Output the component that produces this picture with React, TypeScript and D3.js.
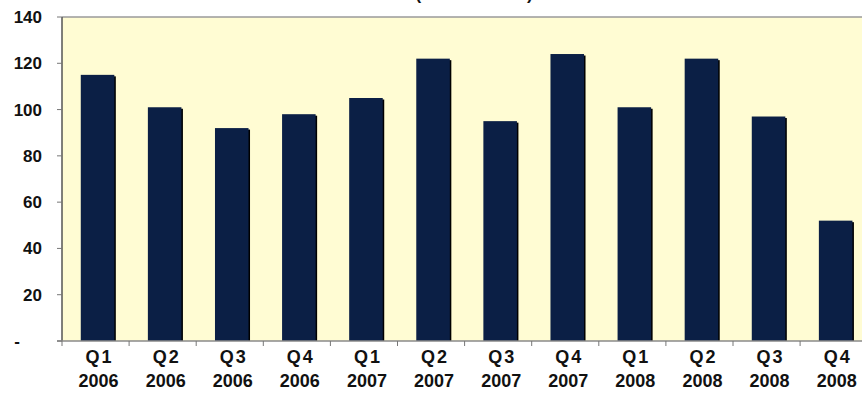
import React from "react";
import * as d3 from "d3";

const quarters = ["Q1", "Q2", "Q3", "Q4", "Q1", "Q2", "Q3", "Q4", "Q1", "Q2", "Q3", "Q4"];
const years = ["2006", "2006", "2006", "2006", "2007", "2007", "2007", "2007", "2008", "2008", "2008", "2008"];
const values = [115, 101, 92, 98, 105, 122, 95, 124, 101, 122, 97, 52];
const yTicks = [0, 20, 40, 60, 80, 100, 120, 140];
const title = "(in thousands)";

const W = 862;
const H = 397;
const left = 62;
const top = 17;
const bottom = 341;

export default function App() {
  const ids = values.map((_, i) => String(i));
  const x = d3.scaleBand<string>().domain(ids).range([left, left + 12 * 67.1]).paddingInner(0.5).paddingOuter(0.25);
  const y = d3.scaleLinear().domain([0, 140]).range([bottom, top]);
  const step = x.step();
  const font = "Arial, 'Liberation Sans', sans-serif";

  return (
    <svg width={W} height={H} style={{ position: "absolute", left: 0, top: 0, background: "#fff" }}>
      <text x={474} y={0} textAnchor="middle" fontFamily={font} fontWeight="bold" fontSize={17} fill="#111">
        {title}
      </text>
      <rect x={left} y={top} width={W - left} height={bottom - top} fill="#fffcd3" />
      <line x1={left} x2={W} y1={top} y2={top} stroke="#9a9a9a" strokeWidth={1.5} />
      {ids.map((id, i) => {
        const bx = (x(id) as number) + 2;
        const bw = x.bandwidth();
        const yt = y(values[i]);
        return (
          <g key={id}>
            <rect x={bx + 1.5} y={yt + 1.5} width={bw} height={bottom - yt - 1.5} fill="#000000" />
            <rect x={bx} y={yt} width={bw} height={bottom - yt} fill="#0b1f45" />
          </g>
        );
      })}
      <line x1={left} x2={left} y1={top} y2={bottom} stroke="#555" strokeWidth={1.5} />
      <line x1={left - 5} x2={W} y1={bottom} y2={bottom} stroke="#8a8a8a" strokeWidth={1.5} />
      {yTicks.map((t) => (
        <g key={t}>
          <line x1={left - 5} x2={left} y1={y(t)} y2={y(t)} stroke="#777" strokeWidth={1} />
          {t === 0 ? (
            <text x={20} y={y(t) + 6} textAnchor="end" fontFamily={font} fontWeight="bold" fontSize={17} fill="#111">
              -
            </text>
          ) : (
            <text x={42} y={y(t) + 6} textAnchor="end" fontFamily={font} fontWeight="bold" fontSize={17} fill="#111">
              {t}
            </text>
          )}
        </g>
      ))}
      {ids.map((id, i) => {
        const bx = left + step * i;
        return <line key={"t" + id} x1={bx} x2={bx} y1={bottom} y2={bottom + 5} stroke="#777" strokeWidth={1} />;
      })}
      {ids.map((id, i) => {
        const cx = (x(id) as number) + x.bandwidth() / 2 + 3;
        return (
          <g key={"l" + id}>
            <text x={cx + 1} y={363} textAnchor="middle" fontFamily={font} fontWeight="bold" fontSize={18} letterSpacing={2} fill="#111">
              {quarters[i]}
            </text>
            <text x={cx} y={387} textAnchor="middle" fontFamily={font} fontWeight="bold" fontSize={18} fill="#111">
              {years[i]}
            </text>
          </g>
        );
      })}
    </svg>
  );
}
